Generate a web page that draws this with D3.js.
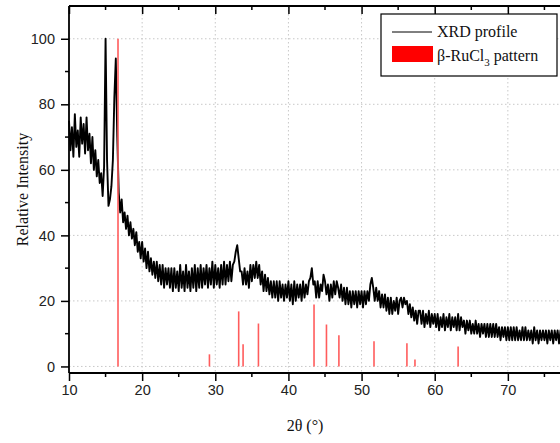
<!DOCTYPE html>
<html>
<head>
<meta charset="utf-8">
<script src="https://cdn.jsdelivr.net/npm/d3@7"></script>
<style>
  html, body { margin: 0; padding: 0; background: #fff; }
  svg { display: block; overflow: hidden; }
  .tick text { font-family: "Liberation Sans", Arial, sans-serif; font-size: 14.5px; fill: #222; }
  .serif { font-family: "Liberation Serif", "Times New Roman", serif; fill: #111; }
</style>
</head>
<body>
<div class="js-canvas"></div>
<script>
'use strict';

// XRD profile: intensity sampled every 0.2 deg starting at 10 deg (one row = 2 deg)
const scanStart = 10;
const scanStep = 0.2;
const intensity = [
    75, 66, 73, 64, 77, 67, 72, 64, 76, 68,   // 10
    74, 65, 76, 66, 71, 62, 70, 60, 66, 58,   // 12
    63, 56, 59, 52, 61, 100, 63, 49, 51, 55,  // 14
    63, 82, 94, 70, 53, 47, 51, 44, 47, 42,   // 16
    46, 40, 44, 39, 42, 37, 41, 35, 38, 33,   // 18
    38, 32, 36, 30, 35, 29, 33, 28, 32, 27,   // 20
    32, 26, 31, 25, 31, 24, 30, 25, 30, 24,   // 22
    30, 23, 30, 24, 29, 23, 31, 24, 29, 23,   // 24
    31, 24, 29, 23, 30, 24, 31, 23, 30, 24,   // 26
    31, 24, 30, 25, 31, 24, 30, 25, 32, 24,   // 28
    31, 25, 30, 24, 31, 25, 32, 25, 31, 26,   // 30
    32, 26, 31, 32, 35, 37, 33, 29, 29, 25,   // 32
    30, 25, 29, 24, 31, 26, 31, 27, 32, 27,   // 34
    31, 25, 29, 23, 28, 23, 27, 22, 26, 21,   // 36
    26, 21, 26, 20, 26, 21, 25, 20, 25, 21,   // 38
    26, 20, 25, 19, 26, 20, 25, 21, 25, 20,   // 40
    26, 21, 25, 22, 26, 27, 30, 25, 26, 21,   // 42
    26, 21, 25, 23, 28, 26, 22, 25, 20, 25,   // 44
    21, 26, 22, 26, 24, 21, 25, 20, 24, 19,   // 46
    24, 19, 23, 18, 23, 19, 23, 18, 23, 19,   // 48
    23, 18, 23, 19, 23, 20, 25, 27, 24, 20,   // 50
    24, 20, 23, 18, 22, 18, 22, 17, 21, 16,   // 52
    21, 16, 20, 17, 21, 16, 20, 21, 18, 21,   // 54
    19, 20, 16, 19, 15, 18, 14, 17, 13, 17,   // 56
    17, 13, 17, 12, 16, 13, 17, 12, 16, 13,   // 58
    16, 12, 16, 11, 15, 12, 16, 11, 15, 12,   // 60
    16, 11, 15, 12, 15, 11, 16, 11, 15, 12,   // 62
    14, 10, 14, 11, 14, 10, 13, 10, 14, 10,   // 64
    13, 9, 13, 10, 13, 9, 13, 9, 13, 9,       // 66
    13, 9, 13, 9, 12, 8, 12, 9, 12, 8,        // 68
    12, 8, 12, 8, 12, 8, 12, 8, 11, 8,        // 70
    12, 8, 12, 8, 11, 8, 11, 7, 12, 8,        // 72
    11, 7, 11, 8, 11, 8, 11, 7, 11, 8,        // 74
    11, 7, 11, 8, 11, 7, 11, 8, 11, 7,        // 76
    10
];

// reference pattern for beta-RuCl3
const patternAngles = [16.7, 29.2, 33.2, 33.8, 35.9, 43.5, 45.2, 46.9, 51.7, 56.2, 57.3, 63.2];
const patternHeights = [100, 3.7, 16.8, 6.8, 13.1, 18.9, 12.8, 9.5, 7.7, 7.1, 2.1, 6.1];

const xTicks = [10, 20, 30, 40, 50, 60, 70];
const yTicks = [0, 20, 40, 60, 80, 100];

const config = {
    height: 443,
    width: 560,
    margin: { top: 6, left: 69 },
    graphWidth: 512,
    graphHeight: 367
};

const svg = d3.select('.js-canvas')
    .append('svg')
    .attr('width', config.width)
    .attr('height', config.height)
    ;

const graph = svg.append('g')
    .attr('transform', `translate(${config.margin.left}, ${config.margin.top})`)
    ;

const x = d3.scaleLinear()
    .domain([10, 80])
    .range([0, config.graphWidth])
    ;

const y = d3.scaleLinear()
    .domain([-2, 110])
    .range([config.graphHeight, 0])
    ;

// dotted grid at the major ticks
graph.append('g')
    .selectAll('line')
    .data(xTicks.filter(d => d > 10))
    .enter().append('line')
    .attr('x1', d => x(d)).attr('x2', d => x(d))
    .attr('y1', 0).attr('y2', config.graphHeight)
    .attr('stroke', '#c8c8c8')
    .attr('stroke-dasharray', '1.5,2.5')
    ;

graph.append('g')
    .selectAll('line')
    .data(yTicks)
    .enter().append('line')
    .attr('x1', 0).attr('x2', config.graphWidth)
    .attr('y1', d => y(d)).attr('y2', d => y(d))
    .attr('stroke', '#c8c8c8')
    .attr('stroke-dasharray', '1.5,2.5')
    ;

// profile
const profile = intensity.map((v, i) => ({ angle: scanStart + i * scanStep, value: v }));

graph.append('path')
    .datum(profile)
    .attr('fill', 'none')
    .attr('stroke', '#000')
    .attr('stroke-width', 1.9)
    .attr('stroke-linejoin', 'round')
    .attr('d', d3.line().x(d => x(d.angle)).y(d => y(d.value)))
    ;

// stick pattern
graph.append('g')
    .selectAll('line')
    .data(patternAngles)
    .enter().append('line')
    .attr('x1', d => x(d)).attr('x2', d => x(d))
    .attr('y1', y(0))
    .attr('y2', (d, i) => y(patternHeights[i]))
    .attr('stroke', '#ff5c5c')
    .attr('stroke-width', 1.6)
    ;

// axes
const minorX = d3.range(15, 80, 10);
const minorY = d3.range(10, 110, 20);

const xAxisGroup = graph.append('g')
    .attr('transform', `translate(0, ${config.graphHeight})`);
xAxisGroup.call(d3.axisBottom(x).tickValues(xTicks).tickSize(8).tickPadding(4));
xAxisGroup.append('g')
    .selectAll('line').data(minorX).enter().append('line')
    .attr('x1', d => x(d)).attr('x2', d => x(d))
    .attr('y1', 0).attr('y2', 4).attr('stroke', '#000').attr('stroke-width', 1.5);

const topAxisGroup = graph.append('g');
topAxisGroup.call(d3.axisTop(x).tickValues(xTicks).tickSize(-8).tickFormat(''));
topAxisGroup.append('g')
    .selectAll('line').data(minorX).enter().append('line')
    .attr('x1', d => x(d)).attr('x2', d => x(d))
    .attr('y1', 0).attr('y2', 4).attr('stroke', '#000').attr('stroke-width', 1.5);

const yAxisGroup = graph.append('g');
yAxisGroup.call(d3.axisLeft(y).tickValues(yTicks).tickSize(8).tickPadding(6));
yAxisGroup.append('g')
    .selectAll('line').data(minorY).enter().append('line')
    .attr('y1', d => y(d)).attr('y2', d => y(d))
    .attr('x1', 0).attr('x2', -4).attr('stroke', '#000').attr('stroke-width', 1.5);

graph.selectAll('.domain').attr('stroke', '#000').attr('stroke-width', 1.8);
graph.selectAll('.tick line').attr('stroke', '#000').attr('stroke-width', 1.5);
topAxisGroup.select('.domain').attr('d', `M0,0H${config.graphWidth}`);
xAxisGroup.select('.domain').attr('d', `M0,0H${config.graphWidth}`);
yAxisGroup.select('.domain').attr('d', `M0,0V${config.graphHeight}`);

// axis titles
svg.append('text')
    .attr('class', 'serif')
    .attr('transform', `translate(28, ${config.margin.top + config.graphHeight / 2}) rotate(-90)`)
    .attr('text-anchor', 'middle')
    .attr('font-size', 16)
    .text('Relative Intensity');

svg.append('text')
    .attr('class', 'serif')
    .attr('x', 305)
    .attr('y', 431)
    .attr('text-anchor', 'middle')
    .attr('font-size', 16)
    .text('2θ (°)');

// legend
const legend = svg.append('g').attr('transform', 'translate(381, 14)');
legend.append('rect')
    .attr('width', 176).attr('height', 62)
    .attr('fill', '#fff').attr('stroke', '#000').attr('stroke-width', 1.2);
legend.append('line')
    .attr('x1', 11).attr('x2', 51).attr('y1', 18).attr('y2', 18)
    .attr('stroke', '#000').attr('stroke-width', 1);
legend.append('text')
    .attr('class', 'serif').attr('x', 56).attr('y', 23).attr('font-size', 16)
    .text('XRD profile');
legend.append('rect')
    .attr('x', 11).attr('y', 32).attr('width', 41).attr('height', 16)
    .attr('fill', '#ff0000');
const patternLabel = legend.append('text')
    .attr('class', 'serif').attr('x', 56).attr('y', 47).attr('font-size', 16);
patternLabel.append('tspan').text('β-RuCl');
patternLabel.append('tspan').attr('dy', 5).attr('font-size', 11).text('3');
patternLabel.append('tspan').attr('dy', -5).text(' pattern');
</script>
</body>
</html>
